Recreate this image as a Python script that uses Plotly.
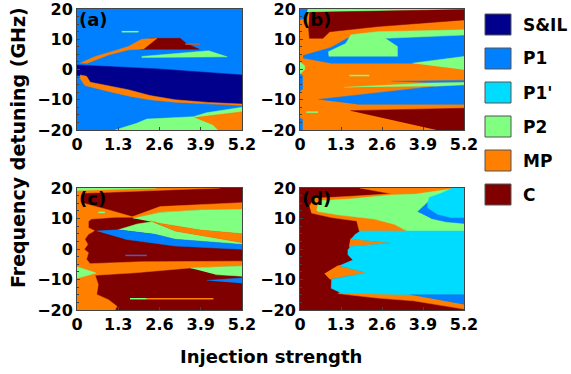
import plotly.graph_objects as go

# ---------------- data ----------------
CATEGORIES = ["S&IL", "P1", "P1'", "P2", "MP", "C"]
COLORS = {"S&IL": "#00008C", "P1": "#0080FF", "P1'": "#00DCFF",
          "P2": "#80FF80", "MP": "#FF7F00", "C": "#800000"}
X_RANGE = [0, 5.2]
Y_RANGE = [-20, 20]
X_TICKS = [0, 1.3, 2.6, 3.9, 5.2]
X_TICK_LABELS = ["0", "1.3", "2.6", "3.9", "5.2"]
Y_TICKS = [-20, -10, 0, 10, 20]
PANEL_LABELS = ["(a)", "(b)", "(c)", "(d)"]
PANEL_BG = ["P1", "MP", "C", "C"]

# ---- panel (a) region boundaries (injection strength, detuning GHz)
a_sil_x = [0, 2.57, 5.2, 5.2, 4.15, 3.09, 2.3, 1.62, 0.99, 0.42, 0.15, 0]
a_sil_y = [1.5, 0.2, -1.8, -11.8, -11.2, -10.3, -8.9, -7.0, -5.7, -4.5, -2.0, -2.0]
a_mp_low_x = [0.1, 0.3, 0.42, 0.99, 1.62, 2.3, 3.09, 4.15, 5.2, 5.2, 4.15, 3.09, 2.3, 1.7, 1.1, 0.47, 0.25, 0.1]
a_mp_low_y = [-1.8, -2.2, -4.2, -5.4, -6.7, -8.6, -10.0, -10.9, -11.4, -11.9, -11.4, -10.8, -10.0, -8.9, -7.5, -5.9, -5.3, -3.0]
a_c_x = [2.3, 3.25, 3.45, 3.85, 2.0]
a_c_y = [10.3, 10.3, 8.6, 6.7, 6.7]
a_mp_up_x = [0.1, 0.57, 1.09, 1.62, 2.04, 2.52, 2.1, 1.62, 0.99, 0.3]
a_mp_up_y = [2.1, 4.3, 5.9, 7.6, 10.0, 10.3, 6.8, 6.5, 4.8, 2.0]
a_p2_mid_x = [2.04, 3.0, 4.15, 4.73, 2.04]
a_p2_mid_y = [4.3, 5.2, 6.2, 4.2, 4.0]
a_p2_bot_x = [1.2, 1.88, 2.2, 3.67, 4.08, 5.2, 5.2]
a_p2_bot_y = [-20, -17.8, -16.4, -15.6, -14.3, -12.5, -20]
a_mp_bot_x = [3.7, 5.2, 5.2, 4.45, 4.3]
a_mp_bot_y = [-15.9, -14.0, -20, -20, -18.4]
a_line1_x, a_line1_y = [1.41, 1.94], [12.5, 12.5]
a_line2_x, a_line2_y = [3.41, 3.88], [8.4, 8.4]

# ---- panel (b)
b_p1_tl_x = [0, 0.25, 0.2, 0]
b_p1_tl_y = [20, 20, 17.0, 16.5]
b_p2_top_x = [0.25, 5.2, 5.2, 0.3, 0.22]
b_p2_top_y = [20, 20, 19.8, 18.9, 18.9]
b_c_top_x = [0.3, 5.2, 5.2, 2.46, 0.94, 0.73, 0.3, 0.27]
b_c_top_y = [18.9, 19.8, 16.4, 14.2, 12.5, 10.3, 10.3, 14.0]
b_p1_up_x = [0.1, 0.99, 1.5, 2.5, 5.2, 5.2, 3.57, 0.99, 0.1]
b_p1_up_y = [4.6, 7.3, 10.3, 10.5, 11.4, 4.3, 2.1, 2.1, 3.8]
b_p2_up_x = [0.92, 0.9, 1.45, 1.62, 2.46, 5.2, 5.2, 2.7, 3.09, 3.09]
b_p2_up_y = [4.3, 5.9, 8.6, 11.5, 12.5, 13.1, 11.4, 10.3, 7.6, 4.3]
b_p2_r_x = [3.57, 5.2, 5.2]
b_p2_r_y = [2.1, 4.3, -0.1]
b_p2_l_x = [0, 0.15, 0.15, 0]
b_p2_l_y = [2.5, 1.2, 0.0, -1.5]
b_p1_l1_x = [0, 0.08, 0.08, 0]
b_p1_l1_y = [-1.5, -2.0, -6.5, -7.0]
b_p1_l2_x = [0, 0.08, 0.08, 0]
b_p1_l2_y = [-16.0, -16.5, -20, -20]
b_p1_low_x = [0.58, 4.25, 5.2, 5.2, 1.8]
b_p1_low_y = [-9.9, -5.6, -5.3, -11.5, -11.5]
b_p1_thin_x = [2.9, 5.2, 5.2, 4.1]
b_p1_thin_y = [-3.9, -3.6, -4.3, -4.4]
b_p2_thin_x = [1.4, 4.1, 5.2, 5.2, 4.25]
b_p2_thin_y = [-5.9, -4.5, -4.3, -5.0, -5.5]
b_c_low_x = [1.6, 5.2, 5.2, 4.33]
b_c_low_y = [-13.6, -12.8, -20, -20]
b_line1_x, b_line1_y = [1.57, 2.2], [-2.0, -2.0]
b_line2_x, b_line2_y = [0.2, 0.57], [-14.1, -14.1]

# ---- panel (c)
c_mp_top_x = [0, 4.5, 1.0, 0]
c_mp_top_y = [20, 20, 18.6, 18.3]
c_p2_top_x = [0, 2.5, 0]
c_p2_top_y = [20, 20, 19.2]
c_mp_left_x = [0, 0.2, 0.15, 0.2, 1.0, 1.8, 1.2, 0.45, 0.36, 0.36, 0.55, 0.36, 0.25, 0.34, 0.23,
               0.36, 0.3, 0.41, 2.0, 5.2, 5.2, 3.57, 1.83, 0.57, 0.67, 0.62, 0.99, 1.26, 1.2, 0]
c_mp_left_y = [18.5, 18.4, 16.5, 15.0, 12.8, 10.4, 10.4, 9.8, 9.0, 7.0, 6.0, 4.8, 3.2, 1.5, -0.1,
               -1.2, -3.4, -4.8, -4.2, -4.0, -5.6, -6.2, -7.8, -8.6, -11.6, -14.9, -16.6, -18.8, -20, -20]
c_mp_b1_x = [1.75, 2.62, 5.2, 5.2, 3.88, 2.62, 1.78]
c_mp_b1_y = [10.6, 13.9, 15.2, 13.0, 12.8, 12.0, 10.05]
c_p2_g1_x = [1.78, 2.62, 3.88, 5.2, 5.2, 3.88, 2.62]
c_p2_g1_y = [10.05, 12.0, 12.8, 13.0, 5.0, 6.2, 8.4]
c_p2_g2_x = [1.3, 1.9, 2.36, 3.09, 5.2, 5.2, 3.09, 2.46]
c_p2_g2_y = [6.3, 8.2, 8.9, 5.9, 2.1, 1.5, 3.2, 4.8]
c_mp_b2_x = [2.3, 2.62, 3.88, 5.2, 5.2, 3.09]
c_mp_b2_y = [9.3, 8.4, 6.2, 5.0, 2.1, 5.9]
c_p1_x = [0.62, 1.3, 2.46, 3.09, 5.2, 5.2, 3.09, 1.52]
c_p1_y = [5.9, 6.3, 4.8, 3.2, 1.5, -0.1, 1.0, 3.2]
c_p2_g3_x = [3.57, 5.2, 5.2, 4.36]
c_p2_g3_y = [-6.2, -5.6, -8.9, -8.4]
c_p1_low_x = [4.09, 5.2, 5.2]
c_p1_low_y = [-10.3, -9.5, -11.2]
c_p2_left_x = [0, 0.6, 0]
c_p2_left_y = [-5.8, -7.9, -9.6]
c_line1_x, c_line1_y = [0.67, 0.88], [12.0, 12.0]
c_line2_x, c_line2_y = [1.52, 2.2], [-2.1, -2.1]
c_line3_x, c_line3_y = [1.67, 2.2], [-16.3, -16.3]
c_line4_x, c_line4_y = [2.2, 4.3], [-16.3, -16.3]

# ---- panel (d)
d_mp_up_x = [0.3, 0.45, 1.5, 2.9, 1.9, 5.2, 5.2, 1.88, 1.8, 1.0, 0.36]
d_mp_up_y = [14.0, 16.6, 17.2, 18.1, 20, 20, 5.9, 5.9, 9.2, 10.3, 11.8]
d_p2_x = [0.53, 0.6, 1.58, 2.9, 3.68, 4.42, 5.0, 5.2, 5.2, 3.4, 2.99, 2.36, 1.2, 0.57]
d_p2_y = [12.7, 15.8, 16.4, 17.7, 18.0, 19.0, 20, 20, 5.9, 5.9, 8.1, 9.8, 11.2, 12.3]
d_p1_up_x = [3.73, 4.05, 5.2, 5.2, 4.63, 4.16]
d_p1_up_y = [12.2, 15.3, 11.0, 8.4, 8.9, 10.0]
d_p1p_up_x = [4.04, 4.1, 4.46, 4.84, 5.2, 5.2, 4.78, 4.36, 4.04]
d_p1p_up_y = [14.7, 16.9, 18.2, 20, 20, 10.3, 10.3, 11.4, 13.6]
d_mp_sp1_x = [1.6, 2.9, 1.55]
d_mp_sp1_y = [3.4, 2.0, 0.7]
d_mp_sp2_x = [1.2, 2.1, 0.95, 0.78]
d_mp_sp2_y = [-5.4, -7.8, -9.9, -8.0]
d_mp_bot_x = [1.25, 2.47, 3.62, 5.2, 5.2, 3.6, 2.47, 1.2]
d_mp_bot_y = [-14.2, -14.6, -14.9, -14.9, -19.7, -17.0, -16.1, -14.6]
d_p1p_low_x = [1.9, 5.2, 5.2, 3.62, 2.47, 1.31, 0.99, 1.0, 2.1, 1.25, 1.68, 1.52, 1.52, 1.6, 2.9, 1.63, 1.75]
d_p1p_low_y = [5.9, 5.9, -15.0, -15.0, -14.75, -14.4, -12.9, -9.9, -7.8, -5.5, -3.6, -1.9, -0.3, 0.8, 2.0, 3.3, 4.8]
d_p1_low_x = [3.5, 5.2, 5.2]
d_p1_low_y = [-15.0, -15.0, -18.2]

PANEL_REGIONS = [
    [("S&IL", a_sil_x, a_sil_y), ("MP", a_mp_low_x, a_mp_low_y), ("C", a_c_x, a_c_y),
     ("MP", a_mp_up_x, a_mp_up_y), ("P2", a_p2_mid_x, a_p2_mid_y),
     ("P2", a_p2_bot_x, a_p2_bot_y), ("MP", a_mp_bot_x, a_mp_bot_y)],
    [("P1", b_p1_tl_x, b_p1_tl_y), ("P2", b_p2_top_x, b_p2_top_y), ("C", b_c_top_x, b_c_top_y),
     ("P1", b_p1_up_x, b_p1_up_y), ("P2", b_p2_up_x, b_p2_up_y), ("P2", b_p2_r_x, b_p2_r_y),
     ("P2", b_p2_l_x, b_p2_l_y), ("P1", b_p1_l1_x, b_p1_l1_y), ("P1", b_p1_l2_x, b_p1_l2_y),
     ("P1", b_p1_low_x, b_p1_low_y), ("P1", b_p1_thin_x, b_p1_thin_y),
     ("P2", b_p2_thin_x, b_p2_thin_y), ("C", b_c_low_x, b_c_low_y)],
    [("MP", c_mp_top_x, c_mp_top_y), ("P2", c_p2_top_x, c_p2_top_y),
     ("MP", c_mp_left_x, c_mp_left_y), ("MP", c_mp_b1_x, c_mp_b1_y),
     ("P2", c_p2_g1_x, c_p2_g1_y), ("P2", c_p2_g2_x, c_p2_g2_y), ("MP", c_mp_b2_x, c_mp_b2_y),
     ("P1", c_p1_x, c_p1_y), ("P2", c_p2_g3_x, c_p2_g3_y), ("P1", c_p1_low_x, c_p1_low_y),
     ("P2", c_p2_left_x, c_p2_left_y)],
    [("MP", d_mp_up_x, d_mp_up_y), ("P2", d_p2_x, d_p2_y), ("P1", d_p1_up_x, d_p1_up_y),
     ("P1'", d_p1p_up_x, d_p1p_up_y), ("MP", d_mp_sp1_x, d_mp_sp1_y),
     ("MP", d_mp_sp2_x, d_mp_sp2_y), ("MP", d_mp_bot_x, d_mp_bot_y),
     ("P1'", d_p1p_low_x, d_p1p_low_y), ("P1", d_p1_low_x, d_p1_low_y)],
]
PANEL_LINES = [
    [("P2", a_line1_x, a_line1_y, "#80FF80"), ("MP", a_line2_x, a_line2_y, "#B86040")],
    [("P2", b_line1_x, b_line1_y, "#80FF80"), ("P2", b_line2_x, b_line2_y, "#80FF80")],
    [("P2", c_line1_x, c_line1_y, "#80FF80"), ("P1", c_line2_x, c_line2_y, "#4060C0"),
     ("P2", c_line3_x, c_line3_y, "#80FF80"), ("MP", c_line4_x, c_line4_y, "#FF7F00")],
    [],
]

# ---------------- layout constants (pixels) ----------------
W, H = 571, 374
BOXES = [(77, 242, 9, 130), (300, 464, 9, 130), (77, 242, 188, 310), (300, 464, 188, 310)]
FONT = "DejaVu Sans"

fig = go.Figure()
for i in range(4):
    xa = "x" if i == 0 else f"x{i+1}"
    ya = "y" if i == 0 else f"y{i+1}"
    bg = COLORS[PANEL_BG[i]]
    fig.add_trace(go.Scatter(
        x=[X_RANGE[0], X_RANGE[1], X_RANGE[1], X_RANGE[0]],
        y=[Y_RANGE[0], Y_RANGE[0], Y_RANGE[1], Y_RANGE[1]],
        fill="toself", fillcolor=bg, mode="lines", line=dict(color=bg, width=0),
        xaxis=xa, yaxis=ya, hoverinfo="skip", showlegend=False))
    for cat, xs, ys in PANEL_REGIONS[i]:
        col = COLORS[cat]
        fig.add_trace(go.Scatter(
            x=xs, y=ys, fill="toself", fillcolor=col, mode="lines",
            line=dict(color=col, width=0.5), xaxis=xa, yaxis=ya,
            hoverinfo="skip", showlegend=False, name=cat))
    for cat, xs, ys, col in PANEL_LINES[i]:
        fig.add_trace(go.Scatter(
            x=xs, y=ys, mode="lines", line=dict(color=col, width=1.5),
            xaxis=xa, yaxis=ya, hoverinfo="skip", showlegend=False, name=cat))

layout = dict(width=W, height=H, margin=dict(l=0, r=0, t=0, b=0, pad=0, autoexpand=False),
              autosize=False, paper_bgcolor="white", plot_bgcolor="white", showlegend=False)
tickfont = dict(family=FONT, size=16, color="black", weight="bold")
for i, (x0, x1, y0, y1) in enumerate(BOXES):
    sx = "" if i == 0 else str(i + 1)
    layout[f"xaxis{sx}"] = dict(
        domain=[x0 / W, x1 / W], range=X_RANGE, tickvals=X_TICKS, ticktext=X_TICK_LABELS,
        anchor=f"y{sx}", showline=True, mirror=True, linecolor="#444", linewidth=1,
        ticks="inside", ticklen=3, tickcolor="#444", showgrid=False, zeroline=False,
        tickfont=tickfont, fixedrange=True, automargin=False, ticklabeloverflow="allow")
    layout[f"yaxis{sx}"] = dict(
        domain=[1 - y1 / H, 1 - y0 / H], range=Y_RANGE, tickvals=Y_TICKS,
        anchor=f"x{sx}", showline=True, mirror=True, linecolor="#444", linewidth=1,
        ticks="inside", ticklen=3, tickcolor="#444", showgrid=False, zeroline=False,
        minor=dict(ticks="inside", ticklen=2, dtick=2.5, tickcolor="#444"),
        tickfont=tickfont, fixedrange=True, automargin=False, ticklabeloverflow="allow")
fig.update_layout(**layout)

annotations = []
for i, lab in enumerate(PANEL_LABELS):
    sx = "" if i == 0 else str(i + 1)
    annotations.append(dict(text=lab, xref=f"x{sx} domain", yref=f"y{sx} domain",
                            x=0.0, y=1.02, xanchor="left", yanchor="top", showarrow=False,
                            font=dict(family=FONT, size=18, color="black", weight="bold")))
annotations.append(dict(text="Frequency detuning (GHz)", xref="paper", yref="paper",
                        x=18 / W, y=1 - 148 / H, xanchor="center", yanchor="middle",
                        textangle=-90, showarrow=False,
                        font=dict(family=FONT, size=19, color="black", weight="bold")))
annotations.append(dict(text="Injection strength", xref="paper", yref="paper",
                        x=271 / W, y=1 - 356 / H, xanchor="center", yanchor="middle",
                        showarrow=False,
                        font=dict(family=FONT, size=18, color="black", weight="bold")))

# legend drawn as squares + labels
shapes = []
LEG_X0, LEG_X1, LEG_Y0, LEG_STEP, LEG_H = 485, 511, 24.5, 34, 21
for k, cat in enumerate(CATEGORIES):
    cy = LEG_Y0 + k * LEG_STEP
    shapes.append(dict(type="rect", xref="paper", yref="paper",
                       x0=LEG_X0 / W, x1=LEG_X1 / W,
                       y0=1 - (cy + LEG_H / 2) / H, y1=1 - (cy - LEG_H / 2) / H,
                       fillcolor=COLORS[cat], line=dict(color="#555", width=1)))
    annotations.append(dict(text=cat, xref="paper", yref="paper", x=521 / W, y=1 - cy / H,
                            xanchor="left", yanchor="middle", showarrow=False,
                            font=dict(family=FONT, size=17, color="black", weight="bold")))
fig.update_layout(annotations=annotations, shapes=shapes)
fig.write_html("out.html")
